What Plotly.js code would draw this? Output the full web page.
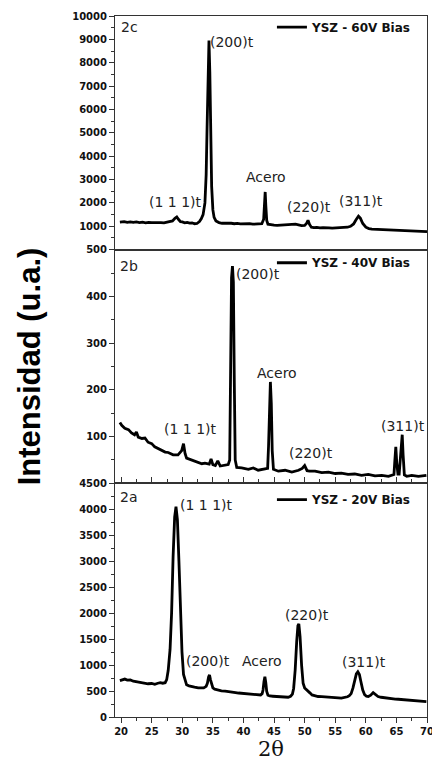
<!DOCTYPE html>
<html>
<head>
<meta charset="utf-8">
<script src="https://cdn.plot.ly/plotly-3.0.1.min.js"></script>
<style>html,body{margin:0;padding:0;background:#fff;}#chart{width:432px;height:763px;}</style>
</head>
<body>
<div id="chart"></div>
<script>
// ---- Data ----
const xTicks = [20, 25, 30, 35, 40, 45, 50, 55, 60, 65, 70];
const ticks60 = [1000, 2000, 3000, 4000, 5000, 6000, 7000, 8000, 9000, 10000];
const ticks40 = [100, 200, 300, 400, 500];
const ticks20 = [0, 500, 1000, 1500, 2000, 2500, 3000, 3500, 4000, 4500];

const seriesNames = ["YSZ - 60V Bias", "YSZ - 40V Bias", "YSZ - 20V Bias"];
const panelLabels = ["2c", "2b", "2a"];

// 2c : 60 V
const x60 = [19.8,20.5,21,21.5,22,22.5,23,23.5,24,24.5,25,25.5,26,26.5,27,27.5,28,28.4,28.8,29.1,29.4,29.7,30,30.4,30.8,31.2,31.6,32,32.4,32.8,33.1,33.4,33.7,33.9,34.05,34.2,34.36,34.5,34.65,34.8,35,35.2,35.5,36,36.5,37,37.5,38,38.5,39,39.5,40,40.5,41,41.5,42,42.5,43,43.3,43.45,43.55,43.65,43.8,44,44.5,45,45.5,46,46.5,47,47.5,48,48.5,49,49.5,50,50.3,50.55,50.8,51.1,51.5,52,52.5,53,53.5,54,54.5,55,55.5,56,56.5,57,57.5,58,58.4,58.8,59.1,59.5,60,60.5,61,61.5,62,62.5,63,63.5,64,64.5,65,65.5,66,66.5,67,67.5,68,68.5,69,69.5,70];
const y60 = [1180,1200,1170,1190,1165,1185,1160,1175,1150,1170,1155,1165,1145,1160,1150,1170,1190,1230,1340,1400,1290,1200,1190,1150,1170,1140,1150,1110,1120,1200,1320,1500,2000,3200,5200,7800,8950,7600,4800,2700,1700,1380,1230,1160,1130,1140,1120,1130,1110,1125,1105,1115,1100,1110,1090,1095,1080,1110,1300,1900,2470,1900,1250,1090,1060,1050,1040,1050,1030,1040,1050,1070,1090,1060,1030,1040,1120,1260,1080,960,940,950,930,945,925,935,920,930,915,930,940,960,1000,1100,1280,1430,1350,1120,960,900,880,875,860,870,850,855,840,845,830,835,820,815,810,805,800,795,785,780,770];

// 2b : 40 V
const x40 = [19.8,20.1,20.6,21.2,21.7,22.2,22.5,22.8,23.4,23.9,24.4,25,25.5,26.1,26.6,27.2,27.7,28.5,29.3,29.9,30.2,30.45,30.7,31.5,32.3,33.2,33.7,34.4,34.7,35,35.4,35.8,36.2,37,37.5,37.75,37.9,38.05,38.2,38.35,38.5,38.65,38.9,39.7,40.8,41.6,42.4,43.2,43.7,43.95,44.1,44.25,44.4,44.55,44.7,44.9,45.7,46.8,47.9,49,49.6,50,50.4,50.8,51.7,52.8,53.9,55,56,57.1,58.2,59.3,60.4,61.5,62.6,63.7,64.4,64.6,64.75,64.9,65.05,65.25,65.45,65.65,65.8,65.95,66.1,66.3,66.7,67.5,68.6,69.9];
const y40 = [130,124,118,115,108,104,110,99,96,97,88,85,78,74,70,67,66,61,61,70,85,64,54,50,45,42,43,41,52,40,38,48,37,38,40,50,250,440,465,430,220,50,34,33,30,33,28,30,31,32,80,180,217,170,70,30,26,28,24,28,32,38,27,26,26,23,24,21,22,19,20,17,19,16,17,15,17,19,50,78,45,20,20,50,90,104,60,18,15,17,15,17];

// 2a : 20 V
const x20 = [19.8,20.3,20.6,21,21.5,22,22.3,22.8,23.4,23.9,24.4,25,25.5,26,26.4,26.8,27.2,27.45,27.7,28,28.25,28.5,28.75,28.97,29.2,29.45,29.7,29.95,30.2,30.45,30.7,31.1,31.5,32,32.6,33.1,33.5,33.9,34.1,34.3,34.45,34.6,34.8,35,35.3,35.8,36.4,37,37.6,38.1,38.7,39.2,39.7,40.3,40.8,41.3,41.9,42.4,42.8,43.05,43.2,43.35,43.5,43.65,43.8,44,44.3,44.8,45.2,45.7,46.2,46.7,47.3,47.7,48,48.2,48.45,48.7,48.9,49.05,49.25,49.5,49.75,50,50.3,50.6,50.9,51.2,51.7,52.2,52.8,53.3,53.9,54.4,55,55.5,56,56.5,57,57.3,57.6,57.9,58.2,58.45,58.7,58.95,59.2,59.5,59.8,60.1,60.4,60.8,61.2,61.6,62,62.5,63,63.7,64.2,64.8,65.3,65.9,66.4,66.9,67.5,68,68.6,69.1,69.5,69.9];
const y20 = [700,720,730,710,715,690,685,670,660,650,640,645,630,650,660,650,660,720,900,1300,2000,3100,3850,4050,3800,3000,2000,1250,820,690,620,600,585,575,560,555,560,590,650,770,810,720,620,560,535,520,505,500,485,478,470,462,457,452,448,445,435,430,425,450,520,680,775,660,490,420,405,400,395,392,388,385,380,400,440,550,900,1450,1760,1795,1550,1000,650,560,520,495,460,425,405,395,392,385,382,380,372,368,362,370,390,410,450,560,700,830,870,820,680,520,430,400,395,420,470,430,395,380,370,360,352,345,342,338,335,330,328,325,320,310,305,298];

// ---- Styling ----
const INK = '#111';
const FRAME = '#333';
const tickFont = {family: 'DejaVu Sans, Arial, sans-serif', size: 10, color: INK, weight: 'bold'};
const legFont = {family: 'DejaVu Sans, Arial, sans-serif', size: 12, color: INK, weight: 'bold'};
const annFont = {family: 'DejaVu Sans, Arial, sans-serif', size: 14, color: '#222'};

const lineStyle = {color: '#000', width: 2.8};

const traces = [
  {x: x20, y: y20, xaxis: 'x', yaxis: 'y', name: seriesNames[2], legend: 'legend3', mode: 'lines', line: lineStyle},
  {x: x40, y: y40, xaxis: 'x', yaxis: 'y2', name: seriesNames[1], legend: 'legend2', mode: 'lines', line: lineStyle},
  {x: x60, y: y60, xaxis: 'x', yaxis: 'y3', name: seriesNames[0], legend: 'legend', mode: 'lines', line: lineStyle}
];

function yax(domain, range, tv, minorStep) {
  return {
    domain: domain, range: range, tickmode: 'array', tickvals: tv,
    ticktext: tv.map(v => String(v)),
    ticks: 'outside', ticklen: 5, tickwidth: 1, tickcolor: FRAME,
    minor: {tickmode: 'linear', tick0: 0, dtick: minorStep, ticks: 'outside', ticklen: 3, tickwidth: 1, tickcolor: FRAME},
    showline: true, linecolor: FRAME, linewidth: 1, mirror: true,
    showgrid: false, zeroline: false, tickfont: tickFont, anchor: 'x', fixedrange: true
  };
}

function ann(text, x, y, yref, xanchor) {
  return {text: text, x: x, y: y, xref: 'x', yref: yref, showarrow: false,
          xanchor: xanchor || 'center', yanchor: 'middle', font: annFont};
}

const legBase = {bgcolor: 'rgba(0,0,0,0)', borderwidth: 0, font: legFont, xanchor: 'left', yanchor: 'middle', itemwidth: 30, tracegroupgap: 0};

const layout = {
  width: 432, height: 763,
  margin: {l: 115, r: 5, t: 16, b: 46},
  paper_bgcolor: '#fff', plot_bgcolor: '#fff',
  showlegend: true,
  xaxis: {
    domain: [0, 1], range: [19, 70], anchor: 'y', tickmode: 'array', tickvals: xTicks,
    ticklabeloverflow: 'allow',
    ticks: 'outside', ticklen: 5, tickwidth: 1, tickcolor: FRAME,
    minor: {tickmode: 'linear', tick0: 0, dtick: 2.5, ticks: 'outside', ticklen: 3, tickwidth: 1, tickcolor: FRAME},
    showline: true, linecolor: FRAME, linewidth: 1, mirror: 'all',
    showgrid: false, zeroline: false, tickfont: tickFont,
    title: {text: '2θ', font: {family: 'DejaVu Serif, Liberation Serif, serif', size: 21, color: INK}, standoff: 4}
  },
  yaxis: yax([0, 1/3], [0, 4500], ticks20, 250),
  yaxis2: Object.assign(yax([1/3, 2/3], [0, 500], ticks40, 50), {
    title: {text: 'Intensidad (u.a.)', font: {family: 'Liberation Sans, Arial, sans-serif', size: 31, color: '#000', weight: 'bold'}, standoff: 36}
  }),
  yaxis3: yax([2/3, 1], [0, 10000], ticks60, 500),
  legend: Object.assign({}, legBase, {x: 0.503, y: 0.984}),
  legend2: Object.assign({}, legBase, {x: 0.503, y: 0.648}),
  legend3: Object.assign({}, legBase, {x: 0.503, y: 0.310}),
  annotations: [
    ann(panelLabels[0], 19.65, 9516, 'y3', 'left'),
    ann('(1 1 1)t', 28.97, 2028, 'y3'),
    ann('(200)t', 38.2, 8875, 'y3'),
    ann('Acero', 43.67, 3098, 'y3'),
    ann('(220)t', 50.7, 1814, 'y3'),
    ann('(311)t', 59.28, 2071, 'y3'),

    ann(panelLabels[1], 19.5, 466, 'y2', 'left'),
    ann('(1 1 1)t', 31.42, 115.5, 'y2'),
    ann('(200)t', 42.45, 447, 'y2'),
    ann('Acero', 45.47, 236, 'y2'),
    ann('(220)t', 51.1, 65, 'y2'),
    ann('(311)t', 66.06, 122, 'y2'),

    ann(panelLabels[2], 19.5, 4241, 'y', 'left'),
    ann('(1 1 1)t', 33.95, 4089, 'y'),
    ann('(200)t', 34.28, 1074, 'y'),
    ann('Acero', 43.02, 1074, 'y'),
    ann('(220)t', 50.37, 1971, 'y'),
    ann('(311)t', 59.69, 1065, 'y')
  ]
};

Plotly.newPlot('chart', traces, layout, {staticPlot: true, displayModeBar: false});
</script>
</body>
</html>
